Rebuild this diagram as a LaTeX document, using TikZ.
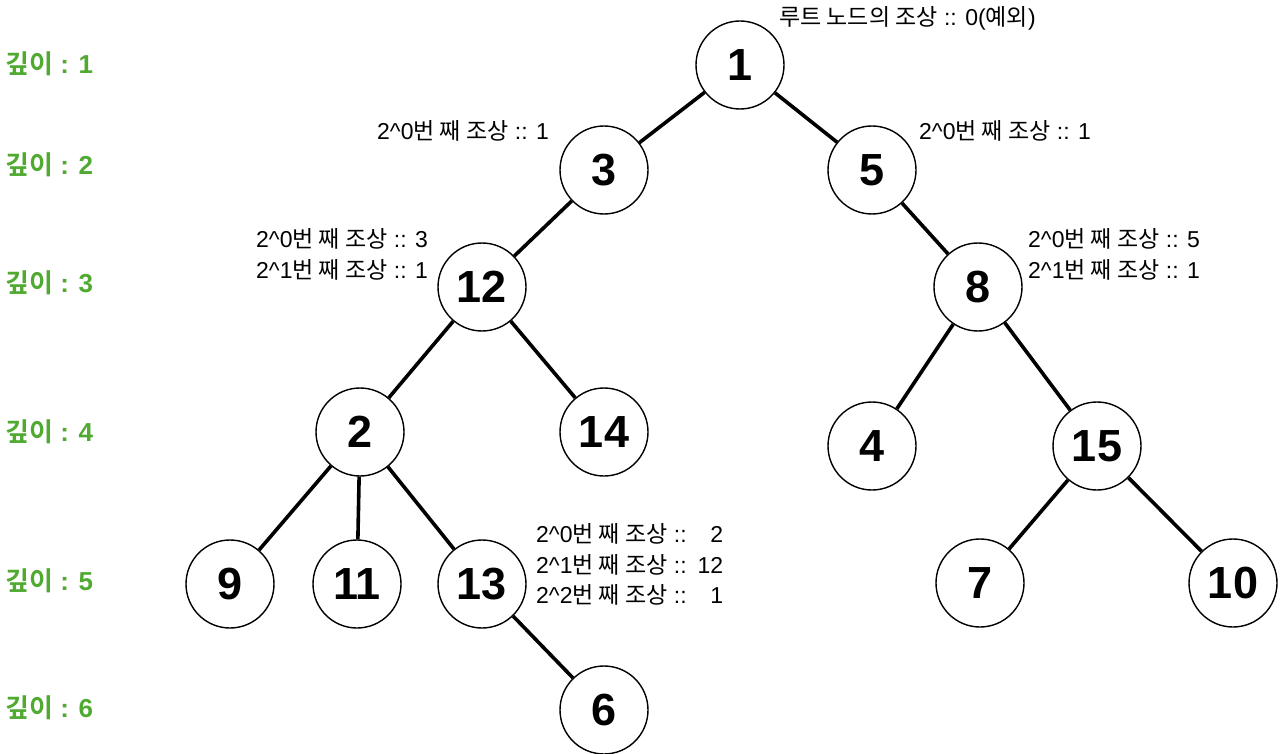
\documentclass[tikz,border=0pt]{standalone}
\usepackage{fontspec}
\setmainfont{Liberation Sans}
\newfontfamily\kr{Noto Sans CJK KR}[BoldFont={Noto Sans CJK KR Bold}]
\newcommand\K[1]{{\kr #1}}
\definecolor{depthgreen}{RGB}{80,170,50}
\tikzset{
  tn/.style={circle, draw, line width=1.4pt, minimum size=88pt, inner sep=0pt,
    font=\fontsize{45}{45}\selectfont\bfseries},
  ann/.style={font=\fontsize{23}{31}\selectfont, inner sep=0pt, align=left, anchor=west},
  depthlbl/.style={font=\fontsize{26}{26}\selectfont\bfseries, text=depthgreen, anchor=west, inner sep=0pt},
  tedge/.style={line width=3.6pt}
}
\begin{document}
\begin{tikzpicture}[x=1pt,y=-1pt]
\useasboundingbox (0,0) rectangle (1280,754);
% tree nodes
\node[tn] (n1)  at (740,65)  {1};
\node[tn] (n3)  at (604,170) {3};
\node[tn] (n5)  at (872,170) {5};
\node[tn] (n12) at (482,287) {12};
\node[tn] (n8)  at (978,287) {8};
\node[tn] (n2)  at (360,432) {2};
\node[tn] (n14) at (604,432) {14};
\node[tn] (n4)  at (872,446) {4};
\node[tn] (n15) at (1097,446) {15};
\node[tn] (n9)  at (230,584) {9};
\node[tn] (n11) at (357,584) {11};
\node[tn] (n13) at (482,584) {13};
\node[tn] (n7)  at (980,583) {7};
\node[tn] (n10) at (1233,583) {10};
\node[tn] (n6)  at (604,710) {6};
% edges
\draw[tedge] (n1) -- (n3);
\draw[tedge] (n1) -- (n5);
\draw[tedge] (n3) -- (n12);
\draw[tedge] (n5) -- (n8);
\draw[tedge] (n12) -- (n2);
\draw[tedge] (n12) -- (n14);
\draw[tedge] (n8) -- (n4);
\draw[tedge] (n8) -- (n15);
\draw[tedge] (n2) -- (n9);
\draw[tedge] (n2) -- (n11);
\draw[tedge] (n2) -- (n13);
\draw[tedge] (n15) -- (n7);
\draw[tedge] (n15) -- (n10);
\draw[tedge] (n13) -- (n6);
% annotations
\node[ann] (a1) at (779,18) {\K{루트 노드의 조상} :: 0(\K{예외})};
\node[ann] (a3) at (377,131) {2\textasciicircum0\K{번 째 조상} :: 1};
\node[ann] (a5) at (919,131) {2\textasciicircum0\K{번 째 조상} :: 1};
\node[ann] (a12) at (256,254.5) {2\textasciicircum0\K{번 째 조상} :: 3\\2\textasciicircum1\K{번 째 조상} :: 1};
\node[ann] (a8) at (1028,254.5) {2\textasciicircum0\K{번 째 조상} :: 5\\2\textasciicircum1\K{번 째 조상} :: 1};
\node[ann] (a13) at (536,567) {\begin{tabular}{@{}l@{\hspace{11pt}}r@{}}
2\textasciicircum0\K{번 째 조상} :: & 2\\[-0.5pt]
2\textasciicircum1\K{번 째 조상} :: & 12\\[-0.5pt]
2\textasciicircum2\K{번 째 조상} :: & 1
\end{tabular}};
% depth labels
\node[depthlbl] (d1) at (5,64)  {\K{깊이} : 1};
\node[depthlbl] (d2) at (5,165) {\K{깊이} : 2};
\node[depthlbl] (d3) at (5,283) {\K{깊이} : 3};
\node[depthlbl] (d4) at (5,432) {\K{깊이} : 4};
\node[depthlbl] (d5) at (5,581) {\K{깊이} : 5};
\node[depthlbl] (d6) at (5,708) {\K{깊이} : 6};
\end{tikzpicture}
\end{document}
